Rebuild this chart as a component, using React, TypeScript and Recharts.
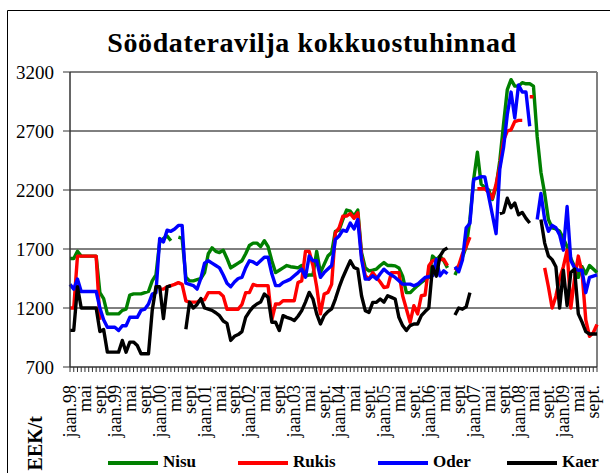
import { LineChart, Line, XAxis, YAxis, ReferenceLine } from "recharts";

// tick labels, one for every 4th month (Jan 1998 .. Oct 2009 = 142 months)
const tickLabels = [
  "jaan.98", "mai", "sept", "jaan.99", "mai", "sept", "jaan.00", "mai", "sept",
  "jaan.01", "mai", "sept", "jaan.02", "mai", "sept", "jaan.03", "mai", "sept.",
  "jaan.04", "mai", "sept.", "jaan.05", "mai", "sept.", "jaan.06", "mai", "sept",
  "jaan.07", "mai", "sept", "jaan.08", "mai", "sept.", "jaan.09", "mai", "sept.",
];

const nisu = [
  1620, 1620, 1680, 1640, 1640, 1640, 1640, 1640, 1330, 1280, 1150, 1150,
  1150, 1150, 1180, 1190, 1310, 1320, 1320, 1320, 1330, 1340, 1430, 1480,
  1760, 1790, 1810, 1770, null, 1800, 1790, 1460, 1430, 1430, 1440, 1450,
  1500, 1660, 1710, 1680, 1670, 1690, 1620, 1540, 1560, 1580, 1600, 1660,
  1730, 1750, 1750, 1720, 1770, 1720, 1600, 1500, 1520, 1540, 1560, 1550,
  1545, 1540, 1560, 1470, 1480, 1480, 1680, 1500, 1570, 1640, 1670, 1850,
  1860, 1950, 2030, 2020, 1980, 2030, 1670, 1540, 1515, 1520, 1530, 1560,
  1585, 1560, 1560, 1557, 1540, 1470, 1330, 1330, 1360, 1390, 1416, 1440,
  1460, 1640, 1610, 1640, 1600, 1540, null, 1480, 1550, 1630, 1720, 1950,
  2290, 2520, 2250, 2220, 2200, 2120, 2230, 2450, 2760, 3050, 3135, 3080,
  3080, 3110, 3100, 3100, 3080, 2650, 2350, 2170, 1950, 1880, 1870, 1850,
  1790, 1720, 1620, 1550, 1460, 1550, 1490, 1560, 1530, 1500,
];

const rukis = [
  1200, 1200, 1640, 1640, 1640, 1640, 1640, 1640, 1100, null, null, null,
  null, null, null, null, null, null, null, null, null, null, null, null,
  1360, 1360, 1380, 1390, 1400, 1415, 1400, 1260, 1250, 1250, 1250, 1270,
  1270, 1330, 1330, 1330, 1330, 1300, 1190, 1190, 1190, 1190, 1230, 1330,
  1330, 1400, 1390, 1390, 1390, 1390, 1100, 1234, 1234, 1262, 1262, 1262,
  1262, 1416, 1430, 1680, 1680, 1560, 1380, 1150, 1318, 1332, 1400, 1838,
  1880, 1978, 1980, 2000, 1960, 2006, 1641, 1473, 1445, 1500, 1459, 1420,
  1374, 1380, 1500, 1500, 1500, 1304, 1192, 1079, 1220, 1150, 1304, 1310,
  1557, 1600, 1610, 1610, 1613, 1560, null, 1520, 1560, 1660, 1720, 1800,
  null, 2210, 2210, 2210, 2180, 2130, 2250, 2400, 2620, 2700, 2710, 2780,
  2790, 2790, null, 2990, 2990, null, null, 1540, 1380, 1200, 1300, 1450,
  1550, 1690, 1200, 1450, 1640, 1500, 1100, 960, 990, 1060,
];

const oder = [
  1400, 1360, 1445, 1340, 1340, 1340, 1340, 1340, 1200, 1100, 1037, 1037,
  1037, 1009, 1050, 1050, 1121, 1121, 1121, 1180, 1190, 1234, 1318, 1330,
  1790, 1760, 1860, 1850, 1870, 1900, 1900, 1410, 1400, 1390, 1360, 1450,
  1580, 1600, 1580, 1560, 1540, 1480, 1410, 1380, 1420, 1450, 1460, 1540,
  1600, 1590, 1570, 1600, 1630, 1630, 1490, 1390, 1390, 1416, 1430, 1445,
  1473, 1500, 1530, 1460, 1640, 1600, 1600, 1460, 1500, 1530, 1560, 1780,
  1810, 1860, 1850, 1920, 1870, 1950, 1613, 1445, 1445, 1473, 1445, 1490,
  1529, 1500, 1480, 1459, 1430, 1402, 1402, 1402, 1388, 1402, 1430, 1459,
  1465, 1473, 1613, 1473, 1515, 1490, null, 1549, 1507, 1606, 1880, 1917,
  2290, 2300, 2313, 2310, 2150, 1990, 1830, 2380, 2560, 2840, 3030, 2810,
  3090, 3030, 3030, 2740, null, 1950, 2170, 1950, 1850, 1900, 1880, 1820,
  1690, 2060, 1600, 1540, 1520, 1520, 1330, 1460, 1470, 1480,
];

const kaer = [
  1010, 1010, 1380, 1200, 1200, 1200, 1200, 1200, 1000, 1017, 826, 826,
  826, 826, 925, 826, 911, 911, 882, 812, 812, 812, 1180, 1380,
  1380, 1110, 1380, 1390, null, null, null, 1020, 1250, 1200, 1230, 1280,
  1200, 1190, 1180, 1160, 1135, 1090, 1070, 925, 960, 975, 1000, 1120,
  1170, 1210, 1234, 1250, 1318, 1290, 1079, 1079, 1009, 1135, 1121, 1110,
  1093, 1130, 1178, 1250, 1332, 1276, 1150, 1065, 1135, 1170, 1192, 1276,
  1374, 1459, 1530, 1600, 1543, 1529, 1304, 1178, 1163, 1248, 1248, 1276,
  1250, 1304, 1290, 1276, 1121, 1051, 1009, 1051, 1065, 1065, 1135, 1170,
  1200, 1550, 1470, 1640, 1690, 1710, null, 1140, 1200, 1190, 1210, 1330,
  null, null, null, null, null, null, null, 2000, 2010, 2130, 2050, 2090,
  1990, 2010, 1960, 1920, null, null, 1950, 1750, 1640, 1610, 1550, 1200,
  1520, 1220, 1500, 1530, 1150, 1080, 1000, 980, 980, 980,
];

const yTicks = [700, 1200, 1700, 2200, 2700, 3200];
const gridValues = [1200, 1700, 2200, 2700];

const series = [
  { key: "nisu", name: "Nisu", color: "#008000" },
  { key: "rukis", name: "Rukis", color: "#ff0000" },
  { key: "oder", name: "Oder", color: "#0000ff" },
  { key: "kaer", name: "Kaer", color: "#000000" },
];

const data = nisu.map((v, i) => ({ m: i, nisu: v, rukis: rukis[i], oder: oder[i], kaer: kaer[i] }));

const serif = '"Liberation Serif", "Times New Roman", serif';

const legendX = [108, 238, 378, 507];

function monthTick(props: any) {
  const { x, y, payload } = props;
  const i = payload.value as number;
  const label = i % 4 === 0 ? tickLabels[i / 4] : "";
  if (!label) return <g />;
  return (
    <text
      transform={`translate(${x},${y + 11}) rotate(-90)`}
      textAnchor="end"
      dominantBaseline="central"
      fontFamily={serif}
      fontSize={18}
      fill="#000"
    >
      {label}
    </text>
  );
}

export default function App() {
  return (
    <div style={{ position: "absolute", left: 0, top: 0, width: 610, height: 473, overflow: "hidden", background: "#fff" }}>
      <LineChart width={610} height={473} data={data} margin={{ top: 72, right: 13, bottom: 26, left: 8 }}>
        {gridValues.map((g) => (
          <ReferenceLine key={g} y={g} stroke="#000" strokeWidth={1} />
        ))}
        <ReferenceLine y={3200} stroke="#808080" strokeWidth={2} />
        <ReferenceLine x={141} stroke="#808080" strokeWidth={2} />
        <XAxis
          dataKey="m"
          scale="point"
          padding={{ left: 0, right: 0 }}
          interval={0}
          height={80}
          tickSize={5}
          tick={monthTick}
          axisLine={{ stroke: "#333", strokeWidth: 1.5 }}
          tickLine={{ stroke: "#333" }}
        />
        <YAxis
          type="number"
          domain={[700, 3200]}
          ticks={yTicks}
          interval={0}
          width={62}
          tickSize={7}
          tickMargin={9}
          axisLine={{ stroke: "#333", strokeWidth: 1.5 }}
          tickLine={{ stroke: "#333" }}
          tick={{ fontSize: 19, fontFamily: serif, fill: "#000" }}
        />
        {series.map((s) => (
          <Line
            key={s.key}
            type="linear"
            dataKey={s.key}
            name={s.name}
            stroke={s.color}
            strokeWidth={3.4}
            strokeLinejoin="round"
            dot={false}
            activeDot={false}
            connectNulls={false}
            isAnimationActive={false}
          />
        ))}
      </LineChart>
      <svg width={610} height={473} style={{ position: "absolute", left: 0, top: 0, pointerEvents: "none" }}>
        <path d="M7.5 473 V10.5 H610" fill="none" stroke="#000" strokeWidth={1} />
        <text x={312} y={52} textAnchor="middle" fontFamily={serif} fontSize={28} fontWeight="bold" letterSpacing={0.6} fill="#000">
          Söödateravilja kokkuostuhinnad
        </text>
        <text transform="translate(42,416) rotate(-90)" textAnchor="end" fontFamily={serif} fontSize={20} fontWeight="bold" fill="#000">
          EEK/t
        </text>
        {series.map((s, k) => (
          <g key={s.key}>
            <line x1={legendX[k]} x2={legendX[k] + 50} y1={463} y2={463} stroke={s.color} strokeWidth={4} />
            <text x={legendX[k] + 55} y={467} fontFamily={serif} fontSize={17} fontWeight="bold" fill="#000">
              {s.name}
            </text>
          </g>
        ))}
      </svg>
    </div>
  );
}
